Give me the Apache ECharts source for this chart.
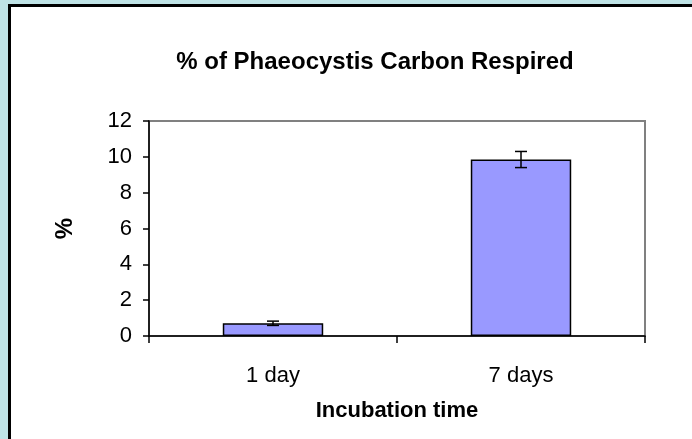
<!DOCTYPE html>
<html>
<head>
<meta charset="utf-8">
<script src="https://cdn.jsdelivr.net/npm/echarts@6/dist/echarts.min.js"></script>
<style>
  html, body { margin: 0; padding: 0; background: #bfe3e6; }
  #chart { width: 692px; height: 439px; }
</style>
</head>
<body>
<div id="chart"></div>
<script>
const categories = ['1 day', '7 days'];
const respired = [0.71, 9.85];
const errors = [0.12, 0.45];
const yTicks = [0, 2, 4, 6, 8, 10, 12];

const font = 'Liberation Sans, Arial, sans-serif';
const chart = echarts.init(document.getElementById('chart'));

const errData = respired.map((v, i) => [i, v - errors[i], v + errors[i]]);

const option = {
  animation: false,
  backgroundColor: '#bfe3e6',
  graphic: [
    {
      type: 'rect',
      z: -10,
      shape: { x: 9.5, y: 5.5, width: 720, height: 460 },
      style: { fill: '#ffffff', stroke: '#000000', lineWidth: 3 }
    }
  ],
  title: {
    text: '% of Phaeocystis Carbon Respired',
    left: 370,
    textAlign: 'center',
    top: 45,
    textStyle: { fontFamily: font, fontSize: 24, fontWeight: 'bold', color: '#000' }
  },
  grid: {
    left: 149,
    top: 121,
    right: 47,
    bottom: 103,
    show: true,
    borderColor: '#808080',
    borderWidth: 2,
    backgroundColor: '#ffffff'
  },
  xAxis: {
    type: 'category',
    data: categories,
    name: 'Incubation time',
    nameLocation: 'middle',
    nameGap: 64,
    nameTextStyle: { fontFamily: font, fontSize: 22, fontWeight: 'bold', color: '#000' },
    axisLine: { lineStyle: { color: '#000', width: 1.5 } },
    axisTick: { show: true, length: 7, lineStyle: { color: '#000', width: 1.5 } },
    axisLabel: { fontFamily: font, fontSize: 22, color: '#000', margin: 29 }
  },
  yAxis: {
    type: 'value',
    min: 0,
    max: 12,
    interval: 2,
    name: '%',
    nameLocation: 'middle',
    nameGap: 72,
    nameRotate: 90,
    nameTextStyle: { fontFamily: font, fontSize: 24, fontWeight: 'bold', color: '#000' },
    axisLine: { show: true, lineStyle: { color: '#000', width: 1.5 } },
    axisTick: { show: true, length: 6, lineStyle: { color: '#000', width: 1.5 } },
    splitLine: { show: false },
    axisLabel: {
      fontFamily: font, fontSize: 22, color: '#000', margin: 17,
      formatter: v => yTicks.includes(v) ? String(v) : ''
    }
  },
  series: [
    {
      type: 'bar',
      data: respired,
      barWidth: '40.5%',
      itemStyle: { color: '#9999ff', borderColor: '#000', borderWidth: 1.5 }
    },
    {
      type: 'custom',
      data: errData,
      z: 10,
      renderItem: function (params, api) {
        const x = api.value(0);
        const lo = api.coord([x, api.value(1)]);
        const hi = api.coord([x, api.value(2)]);
        const half = 6;
        const style = { stroke: '#000', lineWidth: 1.5 };
        return {
          type: 'group',
          children: [
            { type: 'line', shape: { x1: lo[0], y1: lo[1], x2: hi[0], y2: hi[1] }, style },
            { type: 'line', shape: { x1: lo[0] - half, y1: lo[1], x2: lo[0] + half, y2: lo[1] }, style },
            { type: 'line', shape: { x1: hi[0] - half, y1: hi[1], x2: hi[0] + half, y2: hi[1] }, style }
          ]
        };
      }
    }
  ]
};

chart.setOption(option);
</script>
</body>
</html>
